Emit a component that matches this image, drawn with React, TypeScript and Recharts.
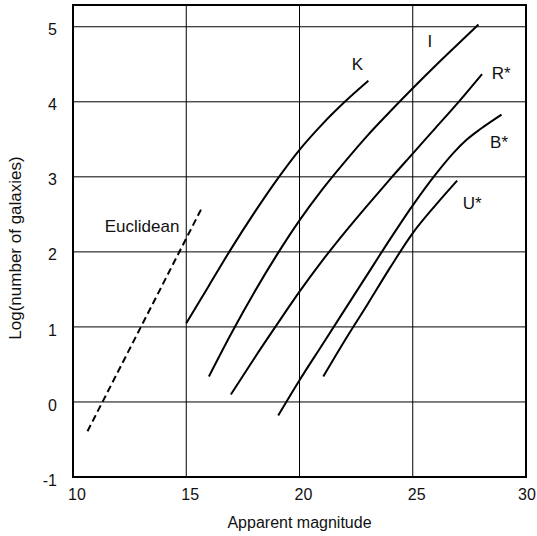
import React from 'react';
import { LineChart, Line, XAxis, YAxis, CartesianGrid, ReferenceArea, ReferenceDot } from 'recharts';

// apparent magnitude (m) vs log N
const euclidean = [
    { m: 10.64, n: -0.39 },
    { m: 15.73, n: 2.61 },
];

const kBand = [
    { m: 15.0, n: 1.05 },
    { m: 16.0, n: 1.55 },
    { m: 17.0, n: 2.05 },
    { m: 18.0, n: 2.52 },
    { m: 19.0, n: 2.96 },
    { m: 20.0, n: 3.36 },
    { m: 21.0, n: 3.7 },
    { m: 22.0, n: 4.0 },
    { m: 23.04, n: 4.28 },
];

const iBand = [
    { m: 16.0, n: 0.34 },
    { m: 17.0, n: 0.92 },
    { m: 18.0, n: 1.46 },
    { m: 19.0, n: 1.96 },
    { m: 20.0, n: 2.42 },
    { m: 21.0, n: 2.83 },
    { m: 22.0, n: 3.2 },
    { m: 23.0, n: 3.55 },
    { m: 24.0, n: 3.87 },
    { m: 25.0, n: 4.18 },
    { m: 26.0, n: 4.48 },
    { m: 27.0, n: 4.77 },
    { m: 27.9, n: 5.03 },
];

const rBand = [
    { m: 16.97, n: 0.1 },
    { m: 18.0, n: 0.58 },
    { m: 19.0, n: 1.03 },
    { m: 20.0, n: 1.47 },
    { m: 21.0, n: 1.88 },
    { m: 22.0, n: 2.26 },
    { m: 23.0, n: 2.62 },
    { m: 24.0, n: 2.97 },
    { m: 25.0, n: 3.31 },
    { m: 26.0, n: 3.65 },
    { m: 27.0, n: 3.99 },
    { m: 28.06, n: 4.37 },
];

const bBand = [
    { m: 19.06, n: -0.18 },
    { m: 20.0, n: 0.29 },
    { m: 21.0, n: 0.76 },
    { m: 22.0, n: 1.23 },
    { m: 23.0, n: 1.7 },
    { m: 24.0, n: 2.17 },
    { m: 25.0, n: 2.62 },
    { m: 26.0, n: 3.03 },
    { m: 26.8, n: 3.32 },
    { m: 27.4, n: 3.5 },
    { m: 28.0, n: 3.64 },
    { m: 28.92, n: 3.83 },
];

const uBand = [
    { m: 21.05, n: 0.34 },
    { m: 22.0, n: 0.82 },
    { m: 23.0, n: 1.3 },
    { m: 24.0, n: 1.79 },
    { m: 25.0, n: 2.25 },
    { m: 26.0, n: 2.62 },
    { m: 26.96, n: 2.95 },
];

const curveLabels = [
    { text: 'K', m: 22.56, n: 4.5 },
    { text: 'I', m: 25.76, n: 4.81 },
    { text: 'R*', m: 28.9, n: 4.38 },
    { text: 'B*', m: 28.81, n: 3.46 },
    { text: 'U*', m: 27.62, n: 2.65 },
    { text: 'Euclidean', m: 13.05, n: 2.34 },
];

const xTicks = [10, 15, 20, 25, 30];
const yTicks = [-1, 0, 1, 2, 3, 4, 5];

const FONT = '"Liberation Sans", Arial, sans-serif';

const XTick = (props: any) => {
    const { x, y, payload } = props;
    // keep the last label inside the picture
    const tx = Math.min(x + 4, 527);
    return (
        <text x={tx} y={y} dy="0.95em" textAnchor="middle" fontFamily={FONT} fontSize={16} fill="#111">
            {payload.value}
        </text>
    );
};

const YTick = (props: any) => {
    const { x, y, payload } = props;
    return (
        <text x={x - 8} y={y + 3} dy="0.35em" textAnchor="end" fontFamily={FONT} fontSize={16} fill="#111">
            {payload.value}
        </text>
    );
};

const CurveLabel = (text: string) => (props: any) => {
    const { viewBox } = props;
    const cx = viewBox.x + viewBox.width / 2;
    const cy = viewBox.y + viewBox.height / 2;
    return (
        <text x={cx} y={cy} dy="0.35em" textAnchor="middle" fontFamily={FONT} fontSize={17} fill="#111">
            {text}
        </text>
    );
};

const series = [
    { key: 'euc', data: euclidean, dash: '7 4' },
    { key: 'k', data: kBand },
    { key: 'i', data: iBand },
    { key: 'r', data: rBand },
    { key: 'b', data: bBand },
    { key: 'u', data: uBand },
];

export default function App() {
    return (
        <div style={{ position: 'absolute', left: 0, top: 0, background: '#fff' }}>
            <LineChart width={537} height={536} margin={{ top: 5, right: 11, left: 0, bottom: 0 }}>
                <CartesianGrid stroke="#000" strokeWidth={1} horizontalValues={yTicks} verticalValues={xTicks} />
                <XAxis
                    type="number"
                    dataKey="m"
                    domain={[10, 30]}
                    ticks={xTicks}
                    axisLine={false}
                    tickLine={false}
                    height={59}
                    tick={<XTick />}
                    allowDataOverflow
                    label={{
                        value: 'Apparent magnitude',
                        position: 'insideBottom',
                        offset: 8,
                        style: { fontFamily: FONT, fontSize: 16, fill: '#111' },
                    }}
                />
                <YAxis
                    type="number"
                    dataKey="n"
                    domain={[-1, 5.29]}
                    ticks={yTicks}
                    axisLine={false}
                    tickLine={false}
                    width={73}
                    tick={<YTick />}
                    allowDataOverflow
                    label={{
                        content: () => (
                            <text
                                transform="translate(15,248) rotate(-90)"
                                textAnchor="middle"
                                dominantBaseline="central"
                                fontFamily={FONT}
                                fontSize={17}
                                fill="#111"
                            >
                                Log(number of galaxies)
                            </text>
                        ),
                    }}
                />
                {series.map((s) => (
                    <Line
                        key={s.key}
                        data={s.data}
                        dataKey="n"
                        type="monotone"
                        stroke="#000"
                        strokeWidth={2}
                        strokeDasharray={s.dash}
                        dot={false}
                        activeDot={false}
                        isAnimationActive={false}
                    />
                ))}
                <ReferenceArea x1={10} x2={30} y1={-1} y2={5.29} fill="none" fillOpacity={0} stroke="#000" strokeWidth={2} />
                {curveLabels.map((l) => (
                    <ReferenceDot
                        key={l.text}
                        x={l.m}
                        y={l.n}
                        r={0}
                        fill="none"
                        stroke="none"
                        label={{ content: CurveLabel(l.text) }}
                    />
                ))}
            </LineChart>
        </div>
    );
}
